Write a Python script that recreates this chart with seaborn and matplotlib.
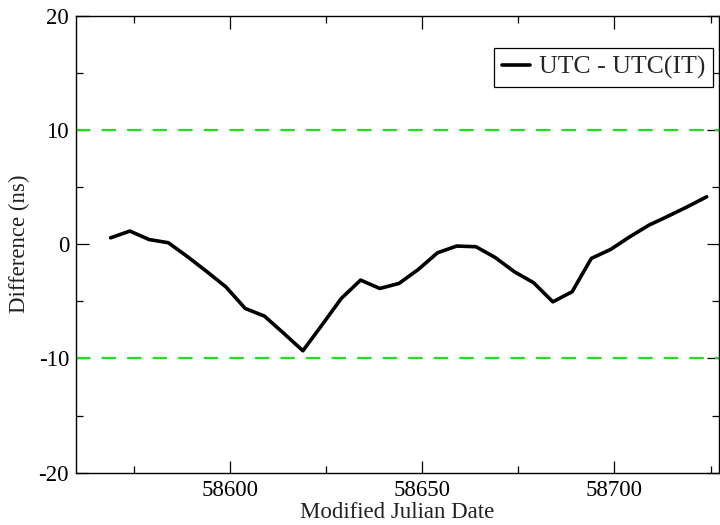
import matplotlib
matplotlib.use("Agg")
import matplotlib.pyplot as plt
from matplotlib.ticker import MultipleLocator
import seaborn as sns
import pandas as pd

# UTC - UTC(IT), five-day values (ns)
mjd = [58569, 58574, 58579, 58584, 58589, 58594, 58599, 58604, 58609, 58614,
       58619, 58624, 58629, 58634, 58639, 58644, 58649, 58654, 58659, 58664,
       58669, 58674, 58679, 58684, 58689, 58694, 58699, 58704, 58709, 58714,
       58719, 58724]
diff_ns = [0.55, 1.14, 0.4, 0.12, -1.1, -2.4, -3.75, -5.63, -6.3, -7.8,
           -9.33, -7.06, -4.75, -3.15, -3.88, -3.44, -2.22, -0.76, -0.17, -0.23,
           -1.17, -2.42, -3.38, -5.05, -4.17, -1.25, -0.47, 0.64, 1.66, 2.45,
           3.27, 4.14]
limits_ns = [10, -10]
series_label = "UTC - UTC(IT)"

df = pd.DataFrame({"MJD": mjd, "diff": diff_ns})

sns.set_theme(style="ticks")
plt.rcParams["font.family"] = ["Liberation Serif", "DejaVu Serif"]
plt.rcParams["axes.unicode_minus"] = False

fig = plt.figure(figsize=(7.2, 5.25), dpi=100)
ax = fig.add_axes([76 / 720, 1 - 472.7 / 525, (719 - 76) / 720, (472.7 - 15.5) / 525])

for lim in limits_ns:
    ax.axhline(lim, color="#22dd22", lw=1.6, ls=(0, (6.5, 5)), zorder=1)

sns.lineplot(data=df, x="MJD", y="diff", ax=ax, color="black", lw=2.6,
             label=series_label, zorder=3)

ax.set_xlim(58560, 58727.2)
ax.set_ylim(-20, 20)
ax.xaxis.set_major_locator(MultipleLocator(50))
ax.xaxis.set_minor_locator(MultipleLocator(25))
ax.yaxis.set_major_locator(MultipleLocator(10))
ax.yaxis.set_minor_locator(MultipleLocator(5))
ax.tick_params(which="both", direction="in", top=True, right=True,
               labelsize=16.5, width=0.9, color="black", labelcolor="black")
ax.tick_params(which="major", length=9, pad=5)
ax.tick_params(which="minor", length=4.8)
for sp in ax.spines.values():
    sp.set_linewidth(1.0)
    sp.set_color("black")

ax.set_xlabel("Modified Julian Date", fontsize=16.5, labelpad=1, color="#222222")
ax.set_ylabel("Difference (ns)", fontsize=16.5, labelpad=6, color="#222222")

leg = ax.legend(loc="upper right", bbox_to_anchor=(0.991, 0.929), fontsize=18.5,
                frameon=True, fancybox=False, edgecolor="black", framealpha=1,
                handlelength=1.1, handletextpad=0.35, borderpad=0.3,
                borderaxespad=0)
leg.get_frame().set_linewidth(0.9)

fig.savefig("out.png", dpi=100)
